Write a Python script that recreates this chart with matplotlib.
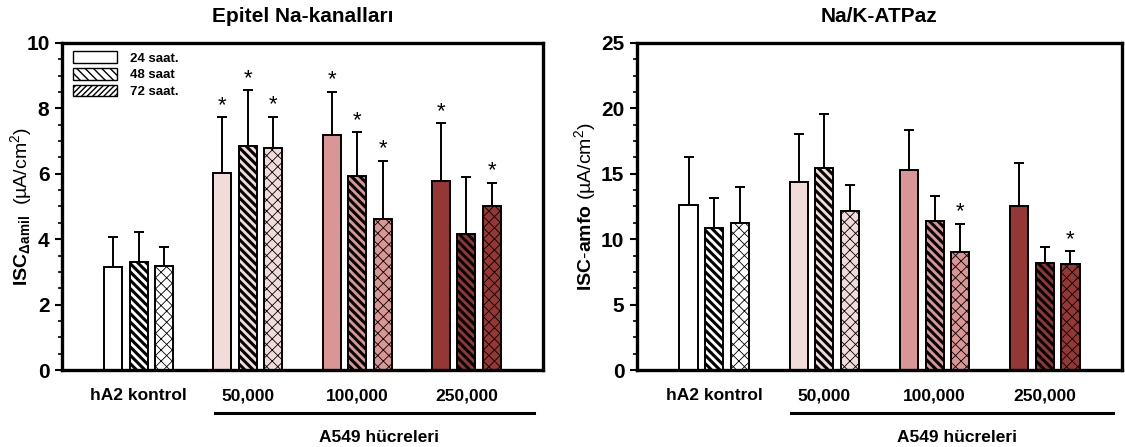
import numpy as np
import matplotlib.pyplot as plt
from matplotlib.patches import Patch
from matplotlib.ticker import MultipleLocator, AutoMinorLocator

plt.rcParams['font.family'] = ['Liberation Sans', 'DejaVu Sans']
plt.rcParams['mathtext.fontset'] = 'custom'
plt.rcParams['mathtext.rm'] = 'Liberation Sans'
plt.rcParams['mathtext.bf'] = 'Liberation Sans:bold'
plt.rcParams['mathtext.it'] = 'Liberation Sans:italic'

# data
groups = ['hA2 kontrol', '50,000', '100,000', '250,000']
series = ['24 saat.', '48 saat', '72 saat.']
group_colors = ['#ffffff', '#f2dcdb', '#d99694', '#953735']
hatches = ['', '\\\\\\\\', 'xxx']

# Epitel Na-kanallari
na_mean = [[3.16, 6.01, 7.19, 5.79],
           [3.31, 6.86, 5.94, 4.15],
           [3.19, 6.78, 4.62, 5.02]]
na_err = [[0.92, 1.72, 1.32, 1.75],
          [0.92, 1.70, 1.33, 1.76],
          [0.56, 0.97, 1.78, 0.71]]
na_star = [[False, True, True, True],
           [False, True, True, False],
           [False, True, True, True]]

# Na/K-ATPaz
nak_mean = [[12.63, 14.41, 15.30, 12.56],
            [10.86, 15.42, 11.36, 8.20],
            [11.24, 12.18, 9.00, 8.14]]
nak_err = [[3.68, 3.63, 3.04, 3.25],
           [2.31, 4.19, 1.98, 1.18],
           [2.74, 1.98, 2.16, 0.92]]
nak_star = [[False, False, False, False],
            [False, False, False, False],
            [False, False, True, True]]

x = np.arange(1, len(groups) + 1)
width = 0.165
offsets = [-0.232, 0, 0.232]

fig = plt.figure(figsize=(11.25, 4.47), dpi=100)
ax1 = fig.add_axes([62 / 1125, 1 - 370 / 447, 481 / 1125, 327 / 447])
ax2 = fig.add_axes([637 / 1125, 1 - 370 / 447, 485 / 1125, 327 / 447])


def draw(ax, mean, err, star, ymax, ystep, title, ylabel):
    for s in range(3):
        lw_h = 2.2 if s == 1 else 0.6
        with plt.rc_context({'hatch.linewidth': lw_h}):
            bars = ax.bar(x + offsets[s], mean[s], width, color=group_colors,
                          edgecolor='black', linewidth=1.4, hatch=hatches[s], zorder=2)
        for b in bars:
            if hasattr(b, 'set_hatch_linewidth'):
                b.set_hatch_linewidth(lw_h)
        ax.errorbar(x + offsets[s], mean[s], yerr=[np.zeros(4), err[s]], fmt='none',
                    ecolor='black', elinewidth=1.4, capsize=3.5, capthick=1.4, zorder=1)
        for i in range(4):
            if star[s][i]:
                ax.annotate('*', (x[i] + offsets[s], mean[s][i] + err[s][i]),
                            xytext=(0, 1), textcoords='offset points',
                            ha='center', va='bottom', fontsize=16)
    ax.set_xlim(0.3, 4.7)
    ax.set_ylim(0, ymax)
    ax.yaxis.set_major_locator(MultipleLocator(ystep))
    ax.yaxis.set_minor_locator(AutoMinorLocator(4))
    ax.set_xticks(x)
    ax.set_xticklabels(groups, fontsize=12.5, fontweight='bold')
    ax.tick_params(axis='x', length=0, pad=13)
    ax.tick_params(axis='y', which='major', length=5, width=1.5, labelsize=15, pad=4)
    ax.tick_params(axis='y', which='minor', length=3, width=1.2)
    for lbl in ax.get_yticklabels():
        lbl.set_fontweight('bold')
    for sp in ax.spines.values():
        sp.set_linewidth(2.4)
    ax.set_title(title, fontsize=15, fontweight='bold', pad=15)
    ax.set_ylabel(ylabel, fontsize=14)
    tr = ax.get_xaxis_transform()
    ax.plot([1.7, 4.62], [-0.131, -0.131], color='black', lw=2.2,
            transform=tr, clip_on=False)
    ax.text(3.2, -0.205, 'A549 hücreleri', transform=tr, ha='center', va='center',
            fontsize=12.5, fontweight='bold')


draw(ax1, na_mean, na_err, na_star, 10, 2, 'Epitel Na-kanalları',
     r'$\mathbf{ISC_{\Delta amil}}$  (µA/cm$^2$)')
draw(ax2, nak_mean, nak_err, nak_star, 25, 5, 'Na/K-ATPaz',
     r'$\mathbf{ISC}$-$\mathbf{amfo}$ (µA/cm$^2$)')
ax1.yaxis.set_label_coords(-0.058, 0.5)
ax2.yaxis.set_label_coords(-0.08, 0.5)

leg_hatch = ['', '\\\\\\\\', '//////']
handles = []
for s in range(3):
    with plt.rc_context({'hatch.linewidth': 1.6 if s == 1 else 0.8}):
        handles.append(Patch(facecolor='white', edgecolor='black', linewidth=1.0,
                             hatch=leg_hatch[s], label=series[s]))
ax1.legend(handles=handles, loc='upper left', bbox_to_anchor=(0.022, 0.975),
           frameon=False, prop={'size': 9.5, 'weight': 'bold'}, handlelength=3.4,
           handleheight=1.0, labelspacing=0.25, handletextpad=0.95, borderpad=0,
           borderaxespad=0)

fig.savefig('out.png', dpi=100)
